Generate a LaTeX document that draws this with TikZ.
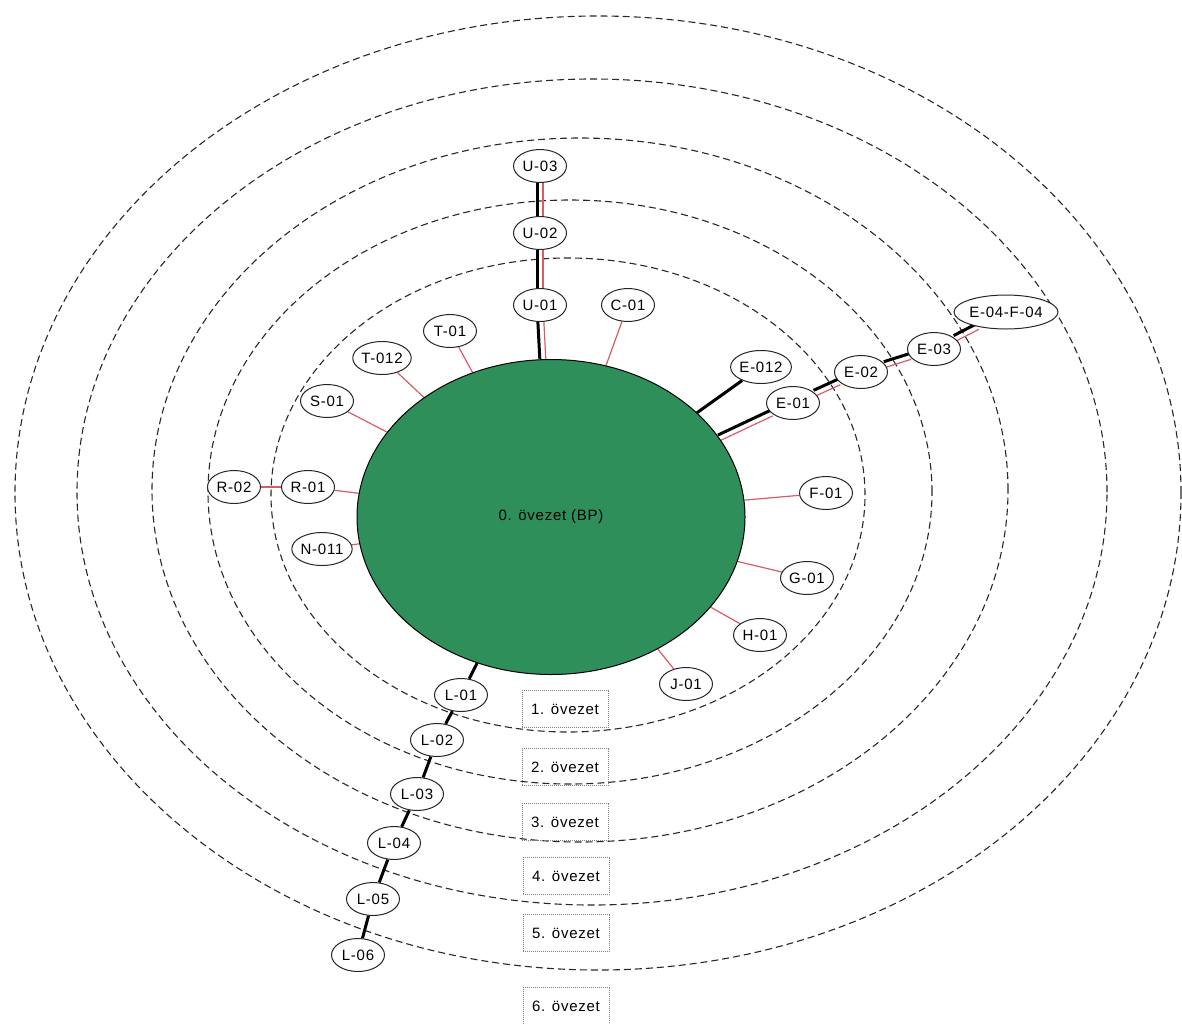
\documentclass[tikz,border=0pt]{standalone}
\usepackage{fontspec}
\setmainfont{Liberation Sans}[LetterSpace=5]
\usetikzlibrary{shapes.geometric}
\definecolor{bpgreen}{RGB}{46,143,90}
\definecolor{linkred}{RGB}{214,92,104}
\definecolor{ringgray}{RGB}{40,40,40}
\pgfdeclarelayer{bg}
\pgfsetlayers{bg,main}
\begin{document}
\begin{tikzpicture}[x=1pt,y=-1pt,
  lbl/.style={font=\fontsize{15}{17}\selectfont},
  town/.style={lbl, ellipse, draw=black!85, fill=white, line width=1pt, inner sep=0pt, minimum width=53pt, minimum height=33pt},
  bigtown/.style={town, minimum width=94pt, minimum height=34pt},
  zone/.style={lbl, draw=gray, densely dotted, line width=1pt, minimum width=86pt, minimum height=37pt, inner sep=0pt},
  ring/.style={draw=ringgray, dash pattern=on 7pt off 4pt, line width=1.1pt},
  redlink/.style={draw=linkred, line width=1.2pt},
  blacklink/.style={draw=black, line width=3pt},
  uB/.style={blacklink, transform canvas={xshift=-3pt}},
  uR/.style={redlink, transform canvas={xshift=3pt}},
  eB/.style={blacklink, transform canvas={xshift=-1.3pt, yshift=2.7pt}},
  eR/.style={redlink, transform canvas={xshift=1.3pt, yshift=-2.7pt}}
]
\useasboundingbox (0,0) rectangle (1182,1023);

% zone rings
\begin{pgfonlayer}{bg}
\draw[ring] (598,493) ellipse [x radius=583pt, y radius=477pt];
\draw[ring] (592,492) ellipse [x radius=515pt, y radius=413pt];
\draw[ring] (580,490) ellipse [x radius=428pt, y radius=352pt];
\draw[ring] (570,492) ellipse [x radius=362pt, y radius=292pt];
\draw[ring] (568,495) ellipse [x radius=297pt, y radius=237pt];
\end{pgfonlayer}

% centre
\node[lbl, ellipse, draw, fill=bpgreen, line width=1pt, inner sep=0pt, minimum width=388pt, minimum height=315pt] (bp) at (551,517) {0. övezet (BP)};

% towns
\node[town] (u1) at (540,305) {U-01};
\node[town] (u2) at (540,233) {U-02};
\node[town] (u3) at (540,166) {U-03};
\node[town] (c1) at (628,305) {C-01};
\node[town] (t1) at (450,331) {T-01};
\node[town] (t012) at (382,358) {T-012};
\node[town] (s1) at (327,401) {S-01};
\node[town] (r1) at (308,487) {R-01};
\node[town] (r2) at (234,487) {R-02};
\node[town] (n011) at (322,549) {N-011};
\node[town] (e012) at (761,367) {E-012};
\node[town] (e1) at (793,403) {E-01};
\node[town] (e2) at (861,372) {E-02};
\node[town] (e3) at (934,349) {E-03};
\node[bigtown] (e4) at (1006,312) {E-04-F-04};
\node[town] (f1) at (826,493) {F-01};
\node[town] (g1) at (807,578) {G-01};
\node[town] (h1) at (760,635) {H-01};
\node[town] (j1) at (686,684) {J-01};
\node[town] (l1) at (461,695) {L-01};
\node[town] (l2) at (437,740) {L-02};
\node[town] (l3) at (417,794) {L-03};
\node[town] (l4) at (394,843) {L-04};
\node[town] (l5) at (373,899) {L-05};
\node[town] (l6) at (358,955) {L-06};

% zone labels
\node[zone] (z1) at (565,709) {1. övezet};
\node[zone] (z2) at (565,767) {2. övezet};
\node[zone] (z3) at (565,822) {3. övezet};
\node[zone] (z4) at (566,876) {4. övezet};
\node[zone] (z5) at (566,933) {5. övezet};
\node[zone] (z6) at (566,1006) {6. övezet};

% connectors
\begin{pgfonlayer}{bg}
\draw[redlink] (bp) -- (c1);
\draw[redlink] (bp) -- (t1);
\draw[redlink] (bp) -- (t012);
\draw[redlink] (bp) -- (s1);
\draw[redlink] (bp) -- (r1);
\draw[redlink] (r1) -- (r2);
\draw[redlink] (bp) -- (n011);
\draw[redlink] (bp) -- (f1);
\draw[redlink] (bp) -- (g1);
\draw[redlink] (bp) -- (h1);
\draw[redlink] (bp) -- (j1);
\draw[blacklink] (bp) -- (e012);
\draw[blacklink] (bp) -- (l1);
\draw[blacklink] (l1) -- (l2);
\draw[blacklink] (l2) -- (l3);
\draw[blacklink] (l3) -- (l4);
\draw[blacklink] (l4) -- (l5);
\draw[blacklink] (l5) -- (l6);
\draw[uB] (bp) -- (u1);
\draw[uR] (bp) -- (u1);
\draw[uB] (u1) -- (u2);
\draw[uR] (u1) -- (u2);
\draw[uB] (u2) -- (u3);
\draw[uR] (u2) -- (u3);
\draw[eB] (bp) -- (e1);
\draw[eR] (bp) -- (e1);
\draw[eB] (e1) -- (e2);
\draw[eR] (e1) -- (e2);
\draw[eB] (e2) -- (e3);
\draw[eR] (e2) -- (e3);
\draw[eB] (e3) -- (e4);
\draw[eR] (e3) -- (e4);
\end{pgfonlayer}
\end{tikzpicture}
\end{document}
